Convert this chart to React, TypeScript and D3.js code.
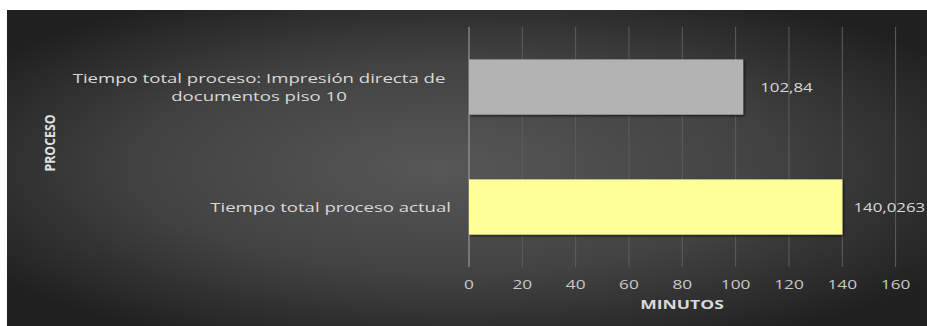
import React from "react";
import * as d3 from "d3";

const categories = [
  ["Tiempo total proceso: Impresión directa de", "documentos piso 10"],
  ["Tiempo total proceso actual"],
];
const values = [102.84, 140.0263];
const valueLabels = ["102,84", "140,0263"];
const barColors = ["#b3b3b3", "#ffff99"];
const ticks = [0, 20, 40, 60, 80, 100, 120, 140, 160];

const W = 927;
const H = 326;
const font = "'Open Sans', sans-serif";

function SText(props: {
  x: number;
  y: number;
  sx?: number;
  anchor?: string;
  fill?: string;
  size?: number;
  weight?: string;
  children: React.ReactNode;
}) {
  const { x, y, sx = 1.3, anchor = "start", fill = "#d9d9d9", size = 14, weight = "normal" } = props;
  return (
    <g transform={`translate(${x},${y}) scale(${sx},1)`}>
      <text
        x={0}
        y={0}
        dy="0.35em"
        textAnchor={anchor}
        fill={fill}
        fontFamily={font}
        fontSize={size}
        fontWeight={weight}
      >
        {props.children}
      </text>
    </g>
  );
}

export default function App() {
  const x = d3.scaleLinear().domain([0, 160]).range([469, 895.6]);
  const y = d3
    .scaleBand<number>()
    .domain(d3.range(categories.length))
    .range([27, 267])
    .paddingInner(0.54)
    .paddingOuter(0.27);

  return (
    <svg
      width={W}
      height={H}
      style={{ position: "absolute", left: 0, top: 0, display: "block" }}
    >
      <defs>
        <radialGradient id="bg" cx="0.5" cy="0.5" r="0.62" fx="0.47" fy="0.5">
          <stop offset="0" stopColor="#575757" />
          <stop offset="0.55" stopColor="#424242" />
          <stop offset="1" stopColor="#202020" />
        </radialGradient>
        <filter id="sh" x="-5%" y="-10%" width="115%" height="130%">
          <feDropShadow dx="1.5" dy="1.5" stdDeviation="1" floodColor="#000" floodOpacity="0.6" />
        </filter>
      </defs>
      <rect x={0} y={0} width={W} height={H} fill="#ffffff" />
      <rect x={7} y={10} width={W - 7} height={H - 10} fill="url(#bg)" />

      {ticks.map((t) => (
        <line
          key={"g" + t}
          x1={x(t)}
          x2={x(t)}
          y1={27}
          y2={267}
          stroke={t === 0 ? "#a6a6a6" : "#5e5e5e"}
          strokeWidth={1}
        />
      ))}

      {values.map((v, i) => (
        <rect
          key={"b" + i}
          x={x(0)}
          y={y(i)!}
          width={x(v) - x(0)}
          height={y.bandwidth()}
          fill={barColors[i]}
          filter="url(#sh)"
        />
      ))}

      {values.map((v, i) => {
        const estW = valueLabels[i].length * 9.2;
        const lx = Math.min(x(v) + 17, W - estW);
        return (
          <SText key={"v" + i} x={lx} y={y(i)! + y.bandwidth() / 2} size={13.5} sx={1.25}>
            {valueLabels[i]}
          </SText>
        );
      })}

      {categories.map((lines, i) => {
        const cy = y(i)! + y.bandwidth() / 2;
        const lh = 18;
        const start = cy - ((lines.length - 1) * lh) / 2;
        return lines.map((l, j) => (
          <SText
            key={"c" + i + "-" + j}
            x={lines.length > 1 ? 259 : 451}
            y={start + j * lh}
            anchor={lines.length > 1 ? "middle" : "end"}
            size={13}
            sx={1.43}
          >
            {l}
          </SText>
        ));
      })}

      {ticks.map((t) => (
        <SText key={"t" + t} x={x(t)} y={284} anchor="middle" fill="#c8c8c8" size={13.5} sx={1.28}>
          {t}
        </SText>
      ))}

      <SText x={682} y={304} anchor="middle" weight="bold" size={13} sx={1.35}>
        MINUTOS
      </SText>
      <g transform="translate(50,143) rotate(-90) scale(0.88,1)">
        <text
          dy="0.35em"
          textAnchor="middle"
          fill="#e0e0e0"
          fontFamily={font}
          fontWeight="bold"
          fontSize={14}
        >
          PROCESO
        </text>
      </g>
    </svg>
  );
}
